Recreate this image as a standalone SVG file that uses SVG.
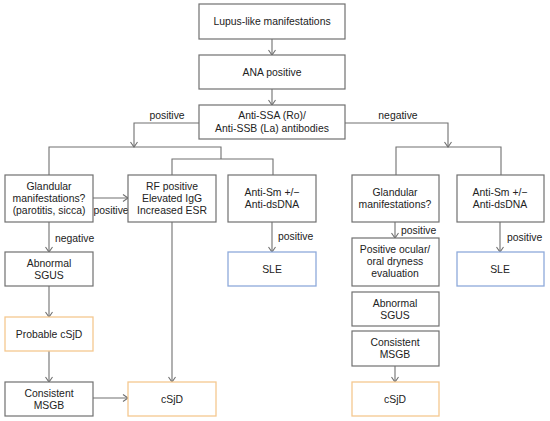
<svg xmlns="http://www.w3.org/2000/svg" width="550" height="421" viewBox="0 0 550 421">
<style>
.b{fill:#fff;stroke:#707070;stroke-width:1.2}
.o{fill:#fff;stroke:#f5c890;stroke-width:1.3}
.s{fill:#fff;stroke:#8eaadb;stroke-width:1.3}
text{font-family:"Liberation Sans",Arial,sans-serif;font-size:10.4px;fill:#222;text-anchor:middle}
.l{text-anchor:start}
.c path{fill:none;stroke:#707070;stroke-width:1.1}
</style>
<defs>
<marker id="a" markerWidth="10" markerHeight="10" refX="6" refY="4" orient="auto" markerUnits="userSpaceOnUse">
<polyline points="1,0.5 6,4 1,7.5" fill="none" stroke="#707070" stroke-width="1.1"/>
</marker>
</defs>
<g class="c" id="connectors">
<path d="M272 39V55" marker-end="url(#a)"/>
<path d="M272 89V105" marker-end="url(#a)"/>
<path d="M199 123H134V147" marker-end="url(#a)"/>
<path d="M345 123H448V147" marker-end="url(#a)"/>
<path d="M49 175V147H221V159"/>
<path d="M172 175V159H273V175"/>
<path d="M396 175V147H501V175"/>
<path d="M93 198H128" marker-end="url(#a)"/>
<path d="M49 222V252" marker-end="url(#a)"/>
<path d="M49 286V317" marker-end="url(#a)"/>
<path d="M49 351V382" marker-end="url(#a)"/>
<path d="M93 398H128" marker-end="url(#a)"/>
<path d="M172 222V382" marker-end="url(#a)"/>
<path d="M272 222V252" marker-end="url(#a)"/>
<path d="M395 222V238" marker-end="url(#a)"/>
<path d="M500 222V252" marker-end="url(#a)"/>
<path d="M395 366V382" marker-end="url(#a)"/>
</g>
<g id="labels">
<text x="167" y="119">positive</text>
<text x="398" y="119">negative</text>
<text x="111" y="214">positive</text>
<text class="l" x="55" y="242">negative</text>
<text class="l" x="278" y="240">positive</text>
<text class="l" x="401" y="234">positive</text>
<text class="l" x="507" y="241">positive</text>
</g>
<g id="n1"><rect class="b" x="199" y="4" width="146" height="35"/><text x="272" y="25">Lupus-like manifestations</text></g>
<g id="n2"><rect class="b" x="199" y="55" width="146" height="34"/><text x="272" y="76">ANA positive</text></g>
<g id="n3"><rect class="b" x="199" y="105" width="146" height="34"/><text x="272" y="119">Anti-SSA (Ro)/</text><text x="272" y="132">Anti-SSB (La) antibodies</text></g>
<g id="n4"><rect class="b" x="5" y="175" width="88" height="47"/><text x="49" y="190">Glandular</text><text x="49" y="202">manifestations?</text><text x="49" y="214">(parotitis, sicca)</text></g>
<g id="n5"><rect class="b" x="128" y="175" width="88" height="47"/><text x="172" y="190">RF positive</text><text x="172" y="202">Elevated IgG</text><text x="172" y="214">Increased ESR</text></g>
<g id="n6"><rect class="b" x="228" y="175" width="88" height="47"/><text x="272" y="196">Anti-Sm +/−</text><text x="272" y="208">Anti-dsDNA</text></g>
<g id="n7"><rect class="b" x="352" y="175" width="87" height="47"/><text x="395" y="196">Glandular</text><text x="395" y="208">manifestations?</text></g>
<g id="n8"><rect class="b" x="457" y="175" width="87" height="47"/><text x="500" y="196">Anti-Sm +/−</text><text x="500" y="208">Anti-dsDNA</text></g>
<g id="n9"><rect class="b" x="5" y="252" width="88" height="34"/><text x="49" y="267">Abnormal</text><text x="49" y="279">SGUS</text></g>
<g id="n10"><rect class="s" x="228" y="252" width="88" height="34"/><text x="272" y="273">SLE</text></g>
<g id="n11"><rect class="b" x="352" y="238" width="87" height="48"/><text x="395" y="253">Positive ocular/</text><text x="395" y="265">oral dryness</text><text x="395" y="277">evaluation</text></g>
<g id="n12"><rect class="s" x="457" y="252" width="87" height="34"/><text x="500" y="273">SLE</text></g>
<g id="n13"><rect class="b" x="352" y="292" width="87" height="34"/><text x="395" y="307">Abnormal</text><text x="395" y="319">SGUS</text></g>
<g id="n14"><rect class="o" x="5" y="317" width="88" height="34"/><text x="49" y="338">Probable cSjD</text></g>
<g id="n15"><rect class="b" x="352" y="331" width="87" height="35"/><text x="395" y="346">Consistent</text><text x="395" y="358">MSGB</text></g>
<g id="n16"><rect class="b" x="5" y="382" width="88" height="34"/><text x="49" y="397">Consistent</text><text x="49" y="409">MSGB</text></g>
<g id="n17"><rect class="o" x="128" y="382" width="88" height="34"/><text x="172" y="403">cSjD</text></g>
<g id="n18"><rect class="o" x="352" y="382" width="87" height="34"/><text x="395" y="403">cSjD</text></g>
</svg>
